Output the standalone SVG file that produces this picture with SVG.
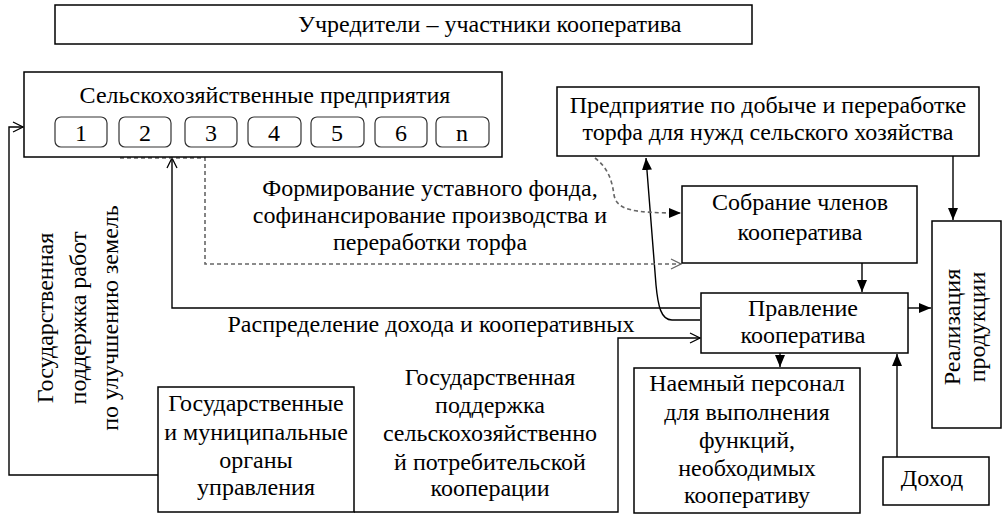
<svg xmlns="http://www.w3.org/2000/svg" width="1003" height="528" viewBox="0 0 1003 528">
<style>
.box{fill:#fff;stroke:#000;stroke-width:1.5}
.sm{fill:#fff;stroke:#333;stroke-width:1.2}
.t{font-size:24px;fill:#000}
.c{text-anchor:middle}
.ln{fill:none;stroke:#000;stroke-width:1.4}
.ds{fill:none;stroke:#666;stroke-width:1.6;stroke-dasharray:4 3}
</style>
<defs>
<marker id="fa" viewBox="0 0 12 10" refX="12" refY="5" markerWidth="12" markerHeight="10" markerUnits="userSpaceOnUse" orient="auto"><path d="M0,0 L12,5 L0,10 z" fill="#000"/></marker>
<marker id="oa" viewBox="0 0 12 12" refX="11" refY="6" markerWidth="12" markerHeight="12" markerUnits="userSpaceOnUse" orient="auto"><path d="M1,1 L11,6 L1,11" fill="none" stroke="#000" stroke-width="1.3"/></marker>
<marker id="oag" viewBox="0 0 12 12" refX="11" refY="6" markerWidth="12" markerHeight="12" markerUnits="userSpaceOnUse" orient="auto"><path d="M1,1 L11,6 L1,11" fill="none" stroke="#666" stroke-width="1.3"/></marker>
</defs>
<rect width="1003" height="528" fill="#fff"/>

<g id="connectors">
<path class="ln" d="M158,475 H9 V127 H23" marker-end="url(#oa)"/>
<path class="ln" d="M700,308 H172 V158" marker-end="url(#oa)"/>
<path class="ln" d="M700,320 H672 C661,320 658,306 656,285 L646,158" marker-end="url(#fa)"/>
<path class="ds" d="M120,158 H205 V264 H681" marker-end="url(#oag)"/>
<path class="ds" d="M595,158 C608,168 612,180 614,195 C617,210 632,213 681,213" marker-end="url(#fa)"/>
<path class="ln" d="M354,512 H618 V338 H700" marker-end="url(#oa)"/>
<path class="ln" d="M862,263 V292" marker-end="url(#fa)"/>
<path class="ln" d="M780,353 V367" marker-end="url(#fa)"/>
<path class="ln" d="M908,308 H931" marker-end="url(#fa)"/>
<path class="ln" d="M953,156 V220" marker-end="url(#fa)"/>
<path class="ln" d="M897,457 V354" marker-end="url(#fa)"/>
</g>

<g id="title">
<rect class="box" x="55" y="5" width="697" height="39"/>
<text font-family="Liberation Serif" class="t" x="298" y="32">Учредители – участники кооператива</text>
</g>

<g id="agri">
<rect class="box" x="24" y="72" width="478" height="85"/>
<text font-family="Liberation Serif" class="t c" x="265" y="103">Сельскохозяйственные предприятия</text>
<g id="agri-items">
<rect class="sm" x="55" y="117" width="52" height="30" rx="6"/><text font-family="Liberation Serif" class="t c" x="81" y="141">1</text>
<rect class="sm" x="119" y="117" width="52" height="30" rx="6"/><text font-family="Liberation Serif" class="t c" x="145" y="141">2</text>
<rect class="sm" x="185" y="117" width="52" height="30" rx="6"/><text font-family="Liberation Serif" class="t c" x="211" y="141">3</text>
<rect class="sm" x="248" y="117" width="53" height="30" rx="6"/><text font-family="Liberation Serif" class="t c" x="274" y="141">4</text>
<rect class="sm" x="311" y="117" width="53" height="30" rx="6"/><text font-family="Liberation Serif" class="t c" x="337" y="141">5</text>
<rect class="sm" x="375" y="117" width="52" height="30" rx="6"/><text font-family="Liberation Serif" class="t c" x="401" y="141">6</text>
<rect class="sm" x="436" y="117" width="53" height="30" rx="6"/><text font-family="Liberation Serif" class="t c" x="462" y="141">n</text>
</g>
</g>

<g id="peat">
<rect class="box" x="557" y="87" width="422" height="69"/>
<text font-family="Liberation Serif" class="t c" x="768" y="113">Предприятие по добыче и переработке</text>
<text font-family="Liberation Serif" class="t c" x="768" y="140">торфа для нужд сельского хозяйства</text>
</g>

<g id="fund-label">
<text font-family="Liberation Serif" class="t c" x="430" y="196">Формирование уставного фонда,</text>
<text font-family="Liberation Serif" class="t c" x="430" y="223">софинансирование производства и</text>
<text font-family="Liberation Serif" class="t c" x="430" y="250">переработки торфа</text>
</g>

<g id="meeting">
<rect class="box" x="682" y="186" width="235" height="77"/>
<text font-family="Liberation Serif" class="t c" x="800" y="210">Собрание членов</text>
<text font-family="Liberation Serif" class="t c" x="800" y="240">кооператива</text>
</g>

<g id="board">
<rect class="box" x="701" y="293" width="207" height="60"/>
<text font-family="Liberation Serif" class="t c" x="803" y="316">Правление</text>
<text font-family="Liberation Serif" class="t c" x="803" y="343">кооператива</text>
</g>

<g id="distribution-label">
<text font-family="Liberation Serif" class="t c" x="431" y="332">Распределение дохода и кооперативных</text>
</g>

<g id="sales">
<rect class="box" x="932" y="221" width="69" height="207"/>
<text font-family="Liberation Serif" class="t c" transform="translate(960,327) rotate(-90)">Реализация</text>
<text font-family="Liberation Serif" class="t c" transform="translate(985,327) rotate(-90)">продукции</text>
</g>

<g id="land-label">
<text font-family="Liberation Serif" class="t c" transform="translate(53,318) rotate(-90)">Государственная</text>
<text font-family="Liberation Serif" class="t c" transform="translate(86,318) rotate(-90)">поддержка работ</text>
<text font-family="Liberation Serif" class="t c" transform="translate(118,318) rotate(-90)">по улучшению земель</text>
</g>

<g id="gov">
<rect class="box" x="158" y="387" width="196" height="125"/>
<text font-family="Liberation Serif" class="t c" x="256" y="411">Государственные</text>
<text font-family="Liberation Serif" class="t c" x="256" y="440">и муниципальные</text>
<text font-family="Liberation Serif" class="t c" x="256" y="468">органы</text>
<text font-family="Liberation Serif" class="t c" x="256" y="495">управления</text>
</g>

<g id="coop-support-label">
<text font-family="Liberation Serif" class="t c" x="490" y="385">Государственная</text>
<text font-family="Liberation Serif" class="t c" x="490" y="413">поддержка</text>
<text font-family="Liberation Serif" class="t c" x="490" y="441">сельскохозяйственно</text>
<text font-family="Liberation Serif" class="t c" x="490" y="470">й потребительской</text>
<text font-family="Liberation Serif" class="t c" x="490" y="496">кооперации</text>
</g>

<g id="staff">
<rect class="box" x="634" y="368" width="226" height="145"/>
<text font-family="Liberation Serif" class="t c" x="747" y="391">Наемный персонал</text>
<text font-family="Liberation Serif" class="t c" x="747" y="420">для выполнения</text>
<text font-family="Liberation Serif" class="t c" x="747" y="448">функций,</text>
<text font-family="Liberation Serif" class="t c" x="747" y="476">необходимых</text>
<text font-family="Liberation Serif" class="t c" x="747" y="503">кооперативу</text>
</g>

<g id="income">
<rect class="box" x="883" y="457" width="106" height="48"/>
<text font-family="Liberation Serif" class="t c" x="932" y="486">Доход</text>
</g>
</svg>
